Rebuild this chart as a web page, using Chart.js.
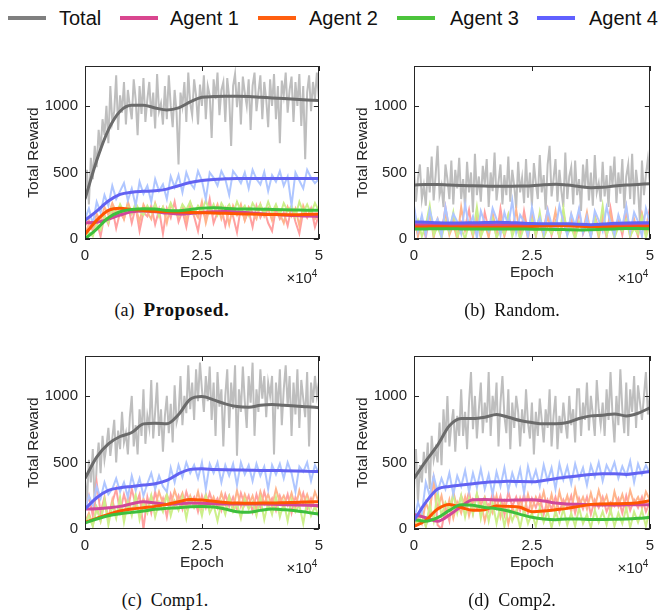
<!DOCTYPE html>
<html>
<head>
<meta charset="utf-8">
<script src="https://cdn.jsdelivr.net/npm/chart.js@4.4.1/dist/chart.umd.min.js"></script>
<style>
body { margin:0; width:662px; height:612px; position:relative; background:#fff; overflow:hidden; font-family:"Liberation Sans", Arial, sans-serif; }
canvas { position:absolute; }
.ln { position:absolute; height:4px; top:16px; }
.lt { position:absolute; top:6px; font-size:20px; line-height:24px; color:#111; }
.cap { position:absolute; width:240px; text-align:center; font-family:"Liberation Serif", "Times New Roman", serif; font-size:18px; line-height:20px; color:#111; }
.cap b { font-size:19px; letter-spacing:0.6px; }
</style>
</head>
<body>
<div class="ln" style="left:8px;width:38px;background:#7f7f7f"></div><div class="lt" style="left:59px">Total</div>
<div class="ln" style="left:120px;width:38px;background:#d9468f"></div><div class="lt" style="left:170px">Agent 1</div>
<div class="ln" style="left:258px;width:38px;background:#ff5f0f"></div><div class="lt" style="left:309px">Agent 2</div>
<div class="ln" style="left:397px;width:38px;background:#4cc43c"></div><div class="lt" style="left:450px">Agent 3</div>
<div class="ln" style="left:537px;width:38px;background:#6060ff"></div><div class="lt" style="left:589px">Agent 4</div>

<canvas id="cA" width="331" height="239" style="left:0;top:50px"></canvas>
<canvas id="cB" width="333" height="239" style="left:329px;top:50px"></canvas>
<canvas id="cC" width="331" height="239" style="left:0;top:340px"></canvas>
<canvas id="cD" width="333" height="239" style="left:329px;top:340px"></canvas>

<div class="cap" style="left:52px;top:300px">(a)&nbsp;&nbsp;<b>Proposed.</b></div>
<div class="cap" style="left:392px;top:300px">(b)&nbsp;&nbsp;Random.</div>
<div class="cap" style="left:45px;top:590px">(c)&nbsp;&nbsp;Comp1.</div>
<div class="cap" style="left:392px;top:590px">(d)&nbsp;&nbsp;Comp2.</div>

<script>
// axes
var xTicks = [0, 2.5, 5];
var yTicks = [0, 500, 1000];
var seriesNames = ['Total', 'Agent 1', 'Agent 2', 'Agent 3', 'Agent 4'];
var fitColors = ['#6b6b6b', '#d0479a', '#ff5500', '#3dbf3d', '#6262f2'];
var rawColors = ['#bebebe', '#ffa0a0', '#ffb48c', '#ccef8a', '#afc6ff'];

// epochs (x10^4) of the smoothed curves
var fitEpochs = [0, 0.25, 0.5, 0.75, 1, 1.25, 1.5, 1.75, 2, 2.25, 2.5, 2.75, 3, 3.25, 3.5, 3.75, 4, 4.25, 4.5, 4.75, 5];

// (a) Proposed
var aTotalFit = [300, 590, 820, 960, 1005, 1005, 985, 970, 985, 1030, 1065, 1070, 1072, 1072, 1070, 1065, 1060, 1055, 1050, 1045, 1040];
var aAgent1Fit = [122, 125, 150, 180, 205, 210, 205, 195, 188, 192, 200, 205, 207, 203, 197, 190, 185, 180, 176, 172, 170];
var aAgent2Fit = [35, 140, 215, 232, 222, 215, 208, 205, 202, 200, 198, 195, 193, 190, 188, 186, 184, 182, 182, 185, 188];
var aAgent3Fit = [0, 75, 160, 205, 222, 228, 225, 215, 212, 222, 232, 235, 230, 226, 225, 224, 222, 220, 218, 216, 216];
var aAgent4Fit = [140, 210, 285, 335, 352, 358, 362, 375, 400, 425, 440, 448, 452, 455, 455, 455, 455, 455, 455, 455, 455];
var aTotalRaw = [300, 520, 260, 610, 450, 700, 540, 820, 660, 900, 780, 1000,
    720, 1150, 880, 960, 1230, 820, 1080, 950, 1180, 860, 1120, 1000,
    900, 1200, 1050, 780, 1150, 940, 1210, 880, 1050, 1180, 920, 1100,
    830, 1240, 960, 1020, 860, 1150, 900, 1230, 1000, 840, 1120, 950,
    560, 1100, 1000, 1180, 880, 1250, 1020, 930, 1200, 1080, 860, 1160,
    1000, 1230, 900, 1150, 1080, 760, 1200, 1050, 1250, 930, 1120, 1180,
    880, 1210, 1060, 700, 1150, 1240, 990, 1180, 860, 1220, 1100, 1000,
    1200, 820, 1150, 1250, 960, 1100, 1230, 900, 1180, 1050, 840, 1200,
    1000, 1240, 900, 1150, 720, 1190, 1080, 1250, 950, 1120, 1220, 880,
    1180, 1000, 1240, 850, 1150, 600, 1100, 1230, 960, 1180, 1050, 1250, 1060];
var aAgent1Raw = [100, 140, 60, 130, 20, 180, 110, 230, 80, 200, 150, 260,
    120, 240, 60, 200, 170, 250, 110, 220, 40, 230, 160, 280,
    130, 210, 90, 250, 170, 60, 230, 150, 300, 120, 200, 240,
    100, 220, 170, 50, 240, 140, 210, 90, 250, 160, 220, 120,
    60, 230, 150, 200, 100, 240, 130, 40, 210, 160, 230, 90, 180];
var aAgent2Raw = [40, 110, 70, 190, 130, 240, 180, 270, 200, 250, 150, 280,
    190, 240, 130, 260, 200, 150, 270, 180, 240, 120, 260, 200,
    170, 250, 140, 270, 210, 160, 280, 120, 240, 190, 260, 150,
    230, 110, 250, 180, 260, 140, 240, 200, 150, 260, 170, 230,
    140, 250, 190, 120, 240, 170, 230, 100, 250, 180, 220, 150, 190];
var aAgent3Raw = [0, 50, 20, 110, 70, 170, 120, 230, 180, 260, 200, 240,
    190, 270, 210, 180, 250, 200, 260, 170, 240, 190, 270, 200,
    180, 260, 220, 280, 190, 250, 210, 290, 200, 260, 180, 270,
    220, 260, 190, 280, 210, 250, 180, 270, 220, 260, 190, 280,
    200, 260, 180, 270, 210, 250, 170, 280, 200, 260, 190, 270, 210];
var aAgent4Raw = [150, 230, 110, 280, 200, 330, 250, 400, 300, 360, 420, 290,
    380, 250, 430, 340, 400, 280, 450, 360, 410, 300, 470, 390,
    480, 350, 500, 420, 380, 510, 440, 300, 500, 460, 400, 510,
    450, 330, 510, 470, 420, 500, 380, 520, 450, 410, 505, 360,
    480, 430, 510, 400, 470, 250, 500, 440, 380, 520, 460, 420, 450];

// (b) Random
var bTotalFit = [405, 410, 410, 405, 402, 400, 398, 396, 397, 398, 400, 408, 412, 405, 395, 385, 388, 398, 405, 410, 415];
var bAgent1Fit = [108, 107, 106, 105, 105, 106, 107, 108, 107, 105, 104, 104, 105, 104, 102, 100, 100, 102, 104, 105, 105];
var bAgent2Fit = [90, 91, 92, 91, 90, 89, 88, 88, 89, 90, 93, 97, 100, 99, 95, 92, 90, 90, 91, 92, 93];
var bAgent3Fit = [75, 76, 77, 77, 76, 75, 75, 76, 76, 75, 74, 73, 72, 70, 68, 70, 73, 76, 78, 78, 77];
var bAgent4Fit = [128, 126, 122, 120, 120, 122, 124, 126, 124, 120, 116, 114, 115, 114, 110, 108, 112, 118, 121, 122, 122];
var bTotalRaw = [520, 280, 450, 560, 300, 400, 250, 540, 350, 620, 290, 480,
    700, 330, 400, 240, 560, 450, 300, 590, 260, 520, 380, 610,
    300, 450, 230, 580, 350, 500, 200, 640, 330, 470, 280, 550,
    410, 600, 240, 500, 360, 650, 290, 430, 560, 260, 480, 330,
    620, 280, 520, 400, 230, 580, 350, 460, 270, 600, 310, 500,
    250, 570, 420, 300, 630, 350, 480, 220, 560, 700, 320, 450,
    600, 280, 520, 360, 240, 650, 300, 470, 540, 260, 590, 330,
    450, 210, 560, 380, 600, 290, 500, 250, 630, 350, 420, 280,
    580, 320, 480, 240, 550, 400, 620, 270, 500, 340, 600, 230,
    470, 560, 300, 640, 260, 520, 380, 110, 590, 330, 480, 600, 420];
var bAgent1Raw = [230, 40, 140, 10, 190, 80, 120, 30, 240, 60, 170, 0,
    130, 90, 220, 30, 160, 10, 200, 70, 140, 20, 230, 50,
    180, 60, 110, 10, 210, 50, 170, 20, 150, 80, 220, 30,
    130, 10, 190, 60, 150, 30, 210, 40, 120, 20, 180, 70,
    140, 10, 230, 50, 160, 30, 200, 60, 120, 20, 190, 80, 230];
var bAgent2Raw = [180, 20, 120, 60, 210, 10, 150, 80, 190, 30, 110, 0,
    240, 60, 130, 20, 180, 50, 120, 10, 200, 40, 160, 20,
    130, 70, 220, 30, 150, 0, 190, 50, 130, 20, 170, 60,
    210, 10, 140, 40, 180, 20, 120, 60, 200, 30, 150, 10,
    170, 50, 190, 20, 130, 70, 240, 10, 150, 40, 180, 30, 190];
var bAgent3Raw = [60, 140, 20, 100, 250, 30, 90, 10, 130, 50, 200, 20,
    80, 0, 120, 40, 240, 20, 90, 60, 150, 10, 70, 40,
    180, 20, 110, 0, 90, 50, 140, 30, 200, 10, 80, 40,
    120, 20, 230, 30, 90, 0, 130, 60, 100, 20, 160, 40,
    250, 30, 110, 10, 90, 60, 140, 20, 80, 40, 170, 10, 110];
var bAgent4Raw = [250, 60, 180, 30, 220, 100, 150, 20, 240, 80, 190, 130,
    40, 260, 90, 170, 10, 210, 120, 60, 230, 150, 30, 200,
    100, 290, 50, 180, 130, 20, 240, 90, 160, 40, 220, 110,
    70, 250, 130, 30, 190, 100, 230, 50, 170, 10, 210, 140,
    60, 240, 120, 30, 180, 90, 250, 50, 200, 130, 20, 230, 120];

// (c) Comp1
var cTotalFit = [380, 540, 640, 695, 725, 790, 795, 790, 860, 975, 995, 970, 940, 920, 915, 930, 935, 930, 925, 918, 912];
var cAgent1Fit = [150, 152, 160, 170, 190, 205, 195, 185, 190, 195, 193, 190, 188, 187, 187, 188, 186, 183, 180, 178, 177];
var cAgent2Fit = [50, 80, 110, 135, 150, 160, 170, 185, 205, 222, 218, 208, 200, 195, 193, 195, 195, 197, 200, 203, 205];
var cAgent3Fit = [45, 75, 100, 115, 125, 135, 148, 155, 160, 168, 170, 165, 150, 130, 125, 140, 150, 145, 138, 125, 112];
var cAgent4Fit = [150, 235, 290, 310, 320, 330, 340, 365, 415, 448, 452, 448, 445, 443, 442, 440, 440, 438, 436, 434, 432];
var cTotalRaw = [380, 200, 520, 350, 600, 150, 480, 650, 420, 700, 520, 620,
    760, 550, 680, 820, 500, 740, 600, 880, 650, 720, 560, 840,
    1000, 620, 780, 560, 900, 700, 1050, 640, 850, 760, 1120, 680,
    880, 1100, 700, 900, 580, 850, 1000, 720, 940, 650, 1080, 800,
    860, 1150, 780, 1000, 870, 1230, 900, 1100, 820, 1200, 960, 1250,
    1050, 880, 1150, 960, 1220, 820, 1100, 700, 1180, 920, 1050, 620,
    1000, 1200, 760, 1100, 900, 1230, 550, 1050, 880, 1220, 960, 760,
    1150, 950, 1250, 700, 1050, 880, 1200, 980, 1150, 840, 1100, 1000,
    1150, 560, 1100, 900, 1200, 780, 1050, 1230, 920, 1150, 700, 1100,
    860, 1200, 760, 1120, 980, 840, 1180, 620, 1100, 950, 1150, 1000, 1100];
var cAgent1Raw = [150, 250, 100, 350, 120, 240, 60, 200, 300, 130, 260, 150,
    300, 180, 260, 0, 240, 120, 280, 160, 230, 90, 260, 170,
    250, 150, 280, 190, 240, 130, 250, 160, 270, 180, 230, 140,
    260, 170, 240, 150, 270, 180, 250, 130, 260, 160, 280, 170,
    230, 140, 250, 170, 260, 120, 240, 180, 270, 150, 230, 160, 170];
var cAgent2Raw = [50, 120, 30, 160, 60, 200, 80, 220, 100, 180, 90, 240,
    120, 200, 110, 230, 140, 250, 170, 280, 190, 260, 180, 290,
    200, 270, 160, 250, 170, 280, 150, 260, 170, 240, 160, 270,
    180, 250, 150, 290, 170, 260, 180, 250, 140, 280, 190, 260,
    170, 300, 200, 250, 180, 270, 160, 290, 190, 260, 170, 280, 200];
var cAgent3Raw = [40, 100, 20, 160, 60, 220, 30, 180, 80, 240, 50, 200,
    100, 260, 70, 190, 120, 250, 90, 200, 130, 260, 100, 210,
    140, 240, 80, 230, 160, 210, 100, 250, 120, 180, 60, 200,
    110, 240, 130, 190, 80, 220, 150, 200, 100, 230, 70, 200,
    110, 240, 90, 200, 60, 220, 130, 180, 40, 210, 100, 170, 90];
var cAgent4Raw = [150, 250, 180, 320, 230, 350, 260, 300, 380, 280, 350, 240,
    400, 290, 380, 250, 340, 420, 300, 400, 320, 280, 460, 350,
    480, 390, 500, 420, 480, 380, 500, 300, 490, 420, 500, 350,
    480, 400, 490, 330, 500, 410, 480, 360, 490, 400, 470, 300,
    480, 410, 490, 380, 500, 420, 280, 470, 430, 500, 360, 480, 420];

// (d) Comp2
var dTotalFit = [380, 510, 630, 775, 830, 830, 840, 860, 840, 815, 800, 790, 790, 800, 830, 850, 855, 865, 850, 870, 910];
var dAgent1Fit = [110, 85, 58, 105, 170, 220, 222, 218, 216, 218, 219, 210, 195, 188, 186, 182, 180, 180, 182, 183, 183];
var dAgent2Fit = [20, 65, 150, 185, 162, 140, 145, 172, 170, 163, 130, 135, 145, 155, 170, 185, 188, 190, 192, 198, 212];
var dAgent3Fit = [70, 58, 85, 140, 182, 178, 162, 152, 135, 110, 88, 75, 70, 75, 75, 72, 72, 73, 75, 80, 88];
var dAgent4Fit = [65, 200, 300, 320, 330, 340, 350, 355, 358, 356, 355, 365, 378, 390, 400, 410, 415, 415, 410, 420, 432];
var dTotalRaw = [300, 600, 200, 480, 350, 580, 420, 650, 300, 700, 520, 600,
    500, 800, 480, 900, 650, 1000, 620, 780, 900, 580, 850, 700,
    1050, 700, 880, 600, 950, 1180, 750, 1000, 680, 900, 1100, 720,
    950, 800, 1180, 700, 1000, 860, 1100, 620, 950, 1150, 850, 720,
    1050, 600, 950, 760, 1000, 880, 620, 900, 720, 1050, 800, 680,
    950, 560, 880, 700, 980, 820, 650, 900, 760, 1050, 620, 850,
    1000, 600, 850, 720, 950, 800, 680, 1000, 780, 900, 650, 1050,
    1050, 700, 950, 820, 1100, 740, 1000, 860, 700, 1120, 900, 780,
    950, 700, 1050, 820, 1180, 860, 650, 1000, 780, 1200, 900, 720,
    1100, 700, 1050, 880, 1150, 760, 1080, 950, 820, 1000, 1180, 860, 1000];
var dAgent1Raw = [100, 60, 150, 20, 120, 400, 30, 0, 160, 60, 280, 150,
    250, 170, 280, 120, 260, 180, 240, 140, 270, 160, 250, 110,
    280, 170, 240, 140, 260, 120, 230, 160, 250, 110, 220, 150,
    240, 130, 220, 160, 250, 120, 230, 150, 240, 110, 220, 160,
    240, 130, 200, 170, 230, 120, 250, 140, 220, 160, 240, 130, 200];
var dAgent2Raw = [20, 100, 40, 200, 120, 380, 150, 250, 100, 220, 80, 200,
    120, 240, 100, 220, 150, 200, 60, 180, 120, 250, 90, 200,
    40, 160, 100, 230, 120, 260, 150, 240, 170, 280, 140, 260,
    120, 280, 160, 250, 130, 300, 170, 240, 150, 270, 160, 290,
    180, 250, 130, 280, 170, 260, 150, 290, 190, 240, 160, 280, 220];
var dAgent3Raw = [80, 40, 120, 20, 180, 60, 280, 100, 200, 140, 260, 120,
    250, 90, 230, 110, 270, 80, 220, 60, 200, 40, 180, 20,
    160, 60, 140, 10, 150, 40, 120, 20, 160, 50, 130, 10,
    140, 40, 150, 30, 120, 20, 160, 40, 110, 10, 140, 50,
    130, 30, 150, 20, 120, 40, 160, 10, 130, 50, 140, 20, 150];
var dAgent4Raw = [60, 200, 120, 350, 250, 400, 280, 380, 300, 420, 260, 400,
    320, 440, 280, 420, 310, 450, 300, 410, 260, 430, 320, 460,
    290, 420, 330, 450, 270, 470, 350, 440, 320, 480, 360, 460,
    300, 490, 370, 470, 340, 490, 380, 460, 330, 480, 390, 500,
    360, 480, 420, 500, 380, 470, 400, 510, 350, 490, 410, 480, 420];

var fontFamily = '"Liberation Sans", Arial, sans-serif';
var axisColor = '#262626';

// box around the plot, inward ticks and the x10^4 exponent
var boxPlugin = {
    id: 'box',
    afterDatasetsDraw: function (chart) {
        var ctx = chart.ctx, a = chart.chartArea;
        var sx = chart.scales.x, sy = chart.scales.y;
        ctx.save();
        ctx.strokeStyle = axisColor;
        ctx.lineWidth = 1;
        ctx.strokeRect(Math.round(a.left) + 0.5, Math.round(a.top) + 0.5, Math.round(a.width) - 1, Math.round(a.height) - 1);
        ctx.beginPath();
        yTicks.forEach(function (v) {
            var y = Math.round(sy.getPixelForValue(v)) + 0.5;
            ctx.moveTo(a.left, y); ctx.lineTo(a.left + 5, y);
            ctx.moveTo(a.right - 5, y); ctx.lineTo(a.right, y);
        });
        xTicks.forEach(function (v) {
            var x = Math.round(sx.getPixelForValue(v)) + 0.5;
            ctx.moveTo(x, a.bottom); ctx.lineTo(x, a.bottom - 5);
            ctx.moveTo(x, a.top); ctx.lineTo(x, a.top + 5);
        });
        ctx.stroke();
        ctx.fillStyle = axisColor;
        ctx.textBaseline = 'middle';
        ctx.textAlign = 'right';
        ctx.font = '15px ' + fontFamily;
        ctx.fillText('\u00d710', a.right - 7, a.bottom + 40);
        ctx.textAlign = 'left';
        ctx.font = '10px ' + fontFamily;
        ctx.fillText('4', a.right - 7, a.bottom + 35);
        ctx.restore();
    }
};

function makePanel(id, raws, fits) {
    var datasets = [];
    for (var k = 0; k < seriesNames.length; k++) {
        var raw = raws[k];
        datasets.push({
            label: seriesNames[k] + ' raw',
            data: raw.map(function (v, i) { return { x: i * 5 / (raw.length - 1), y: v }; }),
            borderColor: rawColors[k],
            borderWidth: 2,
            pointRadius: 0,
            tension: 0,
            order: 10 - k
        });
    }
    for (var k = 0; k < seriesNames.length; k++) {
        var fit = fits[k];
        datasets.push({
            label: seriesNames[k],
            data: fitEpochs.map(function (x, i) { return { x: x, y: fit[i] }; }),
            borderColor: fitColors[k],
            borderWidth: 3,
            pointRadius: 0,
            cubicInterpolationMode: 'monotone',
            order: 5 - k
        });
    }
    var tickFont = { family: fontFamily, size: 15 };
    var titleFont = { family: fontFamily, size: 15.5 };
    new Chart(document.getElementById(id), {
        type: 'line',
        data: { datasets: datasets },
        options: {
            responsive: false,
            animation: false,
            events: [],
            layout: { padding: { left: 0, right: id === 'cA' || id === 'cC' ? 7 : 9, top: 9, bottom: 0 } },
            plugins: { legend: { display: false }, tooltip: { enabled: false } },
            scales: {
                x: {
                    type: 'linear', min: 0, max: 5,
                    afterBuildTicks: function (s) { s.ticks = xTicks.map(function (v) { return { value: v }; }); },
                    afterFit: function (s) { s.height = 50; },
                    grid: { display: false, drawTicks: false },
                    border: { display: false },
                    ticks: { padding: 8, color: axisColor, font: tickFont, maxRotation: 0, autoSkip: false,
                        callback: function (v) { return String(v); } },
                    title: { display: true, text: 'Epoch', color: axisColor, font: titleFont, padding: { top: 0, bottom: 7 } }
                },
                y: {
                    type: 'linear', min: 0, max: 1300,
                    afterBuildTicks: function (s) { s.ticks = yTicks.map(function (v) { return { value: v }; }); },
                    afterFit: function (s) { s.width = 85; },
                    grid: { display: false, drawTicks: false },
                    border: { display: false },
                    ticks: { padding: 7, color: axisColor, font: tickFont, autoSkip: false,
                        callback: function (v) { return String(v); } },
                    title: { display: true, text: 'Total Reward', color: axisColor, font: titleFont, padding: { top: 24, bottom: 0 } }
                }
            }
        },
        plugins: [boxPlugin]
    });
}

makePanel('cA', [aTotalRaw, aAgent1Raw, aAgent2Raw, aAgent3Raw, aAgent4Raw], [aTotalFit, aAgent1Fit, aAgent2Fit, aAgent3Fit, aAgent4Fit]);
makePanel('cB', [bTotalRaw, bAgent1Raw, bAgent2Raw, bAgent3Raw, bAgent4Raw], [bTotalFit, bAgent1Fit, bAgent2Fit, bAgent3Fit, bAgent4Fit]);
makePanel('cC', [cTotalRaw, cAgent1Raw, cAgent2Raw, cAgent3Raw, cAgent4Raw], [cTotalFit, cAgent1Fit, cAgent2Fit, cAgent3Fit, cAgent4Fit]);
makePanel('cD', [dTotalRaw, dAgent1Raw, dAgent2Raw, dAgent3Raw, dAgent4Raw], [dTotalFit, dAgent1Fit, dAgent2Fit, dAgent3Fit, dAgent4Fit]);
</script>
</body>
</html>
